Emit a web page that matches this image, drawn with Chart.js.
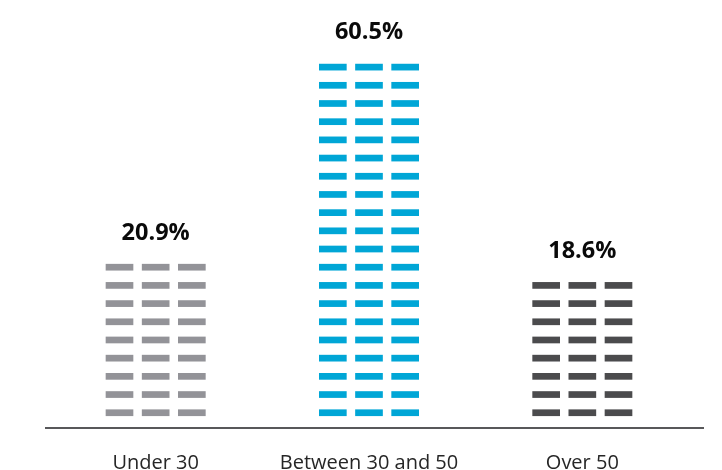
<!DOCTYPE html>
<html>
<head>
<meta charset="utf-8">
<script src="https://cdn.jsdelivr.net/npm/chart.js@4/dist/chart.umd.min.js"></script>
<style>
  html, body { margin: 0; padding: 0; background: #ffffff; }
  #wrap { width: 722px; height: 470px; position: relative; }
</style>
</head>
<body>
<div id="wrap"><canvas id="c" width="722" height="470"></canvas></div>
<script>
// ---- data ----
const categories = ["Under 30", "Between 30 and 50", "Over 50"];
const percentages = [20.9, 60.5, 18.6];        // printed value labels
const dashRows = [9, 20, 8];                    // rows of dashes drawn in each bar
const barColors = ["#939398", "#00A6D6", "#4B4B4D"];

const dashPlugin = {
  id: 'dashBars',
  afterDatasetsDraw(chart) {
    const ctx = chart.ctx;
    const yScale = chart.scales.y;
    const meta = chart.getDatasetMeta(0);
    const cols = 3, gap = 8.5, dashH = 6.7;
    meta.data.forEach((bar, i) => {
      const props = bar.getProps(['x', 'y', 'base', 'width'], true);
      const left = props.x - props.width / 2;
      const colW = (props.width - gap * (cols - 1)) / cols;
      ctx.save();
      ctx.fillStyle = barColors[i];
      const n = dashRows[i];
      let topY = 0;
      for (let k = 0; k < n; k++) {
        const bottom = yScale.getPixelForValue(k + 0.6);
        const top = bottom - dashH;
        topY = top;
        for (let c = 0; c < cols; c++) {
          ctx.fillRect(left + c * (colW + gap), top, colW, dashH);
        }
      }
      ctx.fillStyle = "#0a0a0a";
      ctx.font = "bold 23.5px 'Open Sans', sans-serif";
      ctx.textAlign = "center";
      ctx.textBaseline = "middle";
      ctx.fillText(percentages[i].toFixed(1) + "%", props.x, topY - 31);
      ctx.restore();
    });
    // baseline axis line
    const y0 = yScale.getPixelForValue(0) + 1;
    ctx.save();
    ctx.strokeStyle = "#58585a";
    ctx.lineWidth = 2;
    ctx.beginPath();
    ctx.moveTo(chart.chartArea.left - 4, y0);
    ctx.lineTo(chart.chartArea.right + 15, y0);
    ctx.stroke();
    ctx.restore();
  }
};

new Chart(document.getElementById('c'), {
  type: 'bar',
  data: {
    labels: categories,
    datasets: [{
      data: dashRows,
      backgroundColor: 'rgba(0,0,0,0)',
      borderWidth: 0,
      barThickness: 100
    }]
  },
  options: {
    responsive: false,
    animation: false,
    devicePixelRatio: 1,
    layout: { padding: { top: 45, left: 49, right: 33, bottom: 0 } },
    plugins: { legend: { display: false }, tooltip: { enabled: false } },
    scales: {
      x: {
        grid: { display: false },
        border: { display: false },
        ticks: {
          color: "#262626",
          font: { family: "'Open Sans', sans-serif", size: 20 },
          padding: 16,
          maxRotation: 0
        },
        afterFit(scale) { scale.height = 43; }
      },
      y: {
        display: false,
        min: 0,
        max: 21
      }
    }
  },
  plugins: [dashPlugin]
});
</script>
</body>
</html>
